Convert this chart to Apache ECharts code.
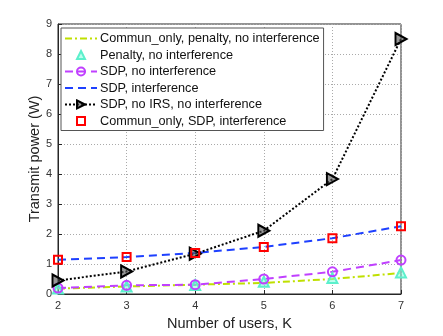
<!DOCTYPE html>
<html>
<head>
<meta charset="utf-8">
<script src="https://cdn.jsdelivr.net/npm/echarts@6/dist/echarts.min.js"></script>
<style>
html, body { margin: 0; padding: 0; background: #fff; }
#chart { width: 443px; height: 336px; }
</style>
</head>
<body>
<div id="chart"></div>
<script>
var users = [2, 3, 4, 5, 6, 7];
var communPenalty = [0.18, 0.25, 0.31, 0.37, 0.50, 0.70];
var penaltyNoInt = [0.18, 0.25, 0.30, 0.41, 0.53, 0.72];
var sdpNoInt = [0.20, 0.29, 0.31, 0.50, 0.74, 1.13];
var sdpInt = [1.14, 1.23, 1.37, 1.57, 1.86, 2.26];
var sdpNoIrs = [0.45, 0.75, 1.34, 2.11, 3.83, 8.50];
var communSdpInt = [1.14, 1.23, 1.37, 1.57, 1.86, 2.26];

function pairs(vals) {
	var out = [];
	for (var i = 0; i < users.length; i++) {
		out.push([users[i], vals[i]]);
	}
	return out;
}

// right pointing triangle, so the legend shows it the same way
var rightTri = 'path://M0,0 L10,5 L0,10 Z';

var myChart = echarts.init(document.getElementById('chart'));
var font = 'Liberation Sans, Arial, sans-serif';
var option = {
	animation: false,
	textStyle: { fontFamily: font },
	grid: {
		left: 58, right: 42, top: 24, bottom: 42,
		show: true, borderColor: '#262626', borderWidth: 1
	},
	legend: {
		orient: 'vertical',
		left: 61, top: 28,
		itemWidth: 32, itemHeight: 10,
		itemGap: 3.5,
		padding: [4, 4, 3, 3],
		backgroundColor: '#fff',
		borderColor: '#555',
		borderWidth: 1,
		textStyle: { fontSize: 12.7, color: '#111', fontFamily: font, padding: [0, 0, 0, -2] },
		data: [
			{ name: 'Commun_only, penalty, no interference', itemStyle: { opacity: 0 } },
			{ name: 'Penalty, no interference' },
			{ name: 'SDP, no interference' },
			{ name: 'SDP, interference', itemStyle: { opacity: 0 } },
			{ name: 'SDP, no IRS, no interference' },
			{ name: 'Commun_only, SDP, interference' }
		]
	},
	xAxis: {
		type: 'value', min: 2, max: 7, interval: 1,
		name: 'Number of users, K', nameLocation: 'middle', nameGap: 22,
		nameMoveOverlap: false,
		nameTextStyle: { fontSize: 14.5, color: '#222' },
		axisLine: { lineStyle: { color: '#262626' } },
		axisTick: { inside: true, length: 4, lineStyle: { color: '#262626' } },
		axisLabel: { fontSize: 11, color: '#333', margin: 6 },
		splitLine: { show: true, lineStyle: { type: [1, 2], color: '#aaa' } }
	},
	yAxis: {
		type: 'value', min: 0, max: 9, interval: 1,
		name: 'Transmit power (W)', nameLocation: 'middle', nameGap: 16,
		nameMoveOverlap: false,
		nameTextStyle: { fontSize: 14.5, color: '#222' },
		axisLine: { lineStyle: { color: '#262626' } },
		axisTick: { inside: true, length: 4, lineStyle: { color: '#262626' } },
		axisLabel: { fontSize: 11, color: '#333', margin: 6 },
		splitLine: { show: true, lineStyle: { type: [1, 2], color: '#aaa' } }
	},
	series: [
		{
			name: 'Commun_only, penalty, no interference', type: 'line',
			data: pairs(communPenalty), symbol: 'none',
			lineStyle: { color: '#bfe000', width: 2, type: [7, 3, 2, 3] },
			itemStyle: { color: '#bfe000' }
		},
		{
			name: 'Penalty, no interference', type: 'line',
			data: pairs(penaltyNoInt), symbol: 'triangle', symbolSize: 10,
			lineStyle: { width: 0, opacity: 0 },
			itemStyle: { color: 'rgba(120,255,220,0.5)', borderColor: '#5cf0cc', borderWidth: 2 }
		},
		{
			name: 'SDP, no interference', type: 'line',
			data: pairs(sdpNoInt), symbol: 'circle', symbolSize: 9,
			lineStyle: { color: '#c040ff', width: 2, type: [8, 5] },
			itemStyle: { color: 'rgba(255,255,255,0)', borderColor: '#c040ff', borderWidth: 2 }
		},
		{
			name: 'SDP, interference', type: 'line',
			data: pairs(sdpInt), symbol: 'none',
			lineStyle: { color: '#1e40ff', width: 2, type: [8, 5] },
			itemStyle: { color: '#1e40ff' }
		},
		{
			name: 'SDP, no IRS, no interference', type: 'line',
			data: pairs(sdpNoIrs), symbol: rightTri, symbolSize: [11, 12],
			lineStyle: { color: '#000', width: 2, type: [2, 2] },
			itemStyle: { color: 'rgba(80,80,80,0.6)', borderColor: '#000', borderWidth: 2 }
		},
		{
			name: 'Commun_only, SDP, interference', type: 'line',
			data: pairs(communSdpInt), symbol: 'rect', symbolSize: 8,
			lineStyle: { width: 0, opacity: 0 },
			itemStyle: { color: 'rgba(255,255,255,0)', borderColor: '#ff0000', borderWidth: 2 }
		}
	]
};
myChart.setOption(option);
</script>
</body>
</html>
